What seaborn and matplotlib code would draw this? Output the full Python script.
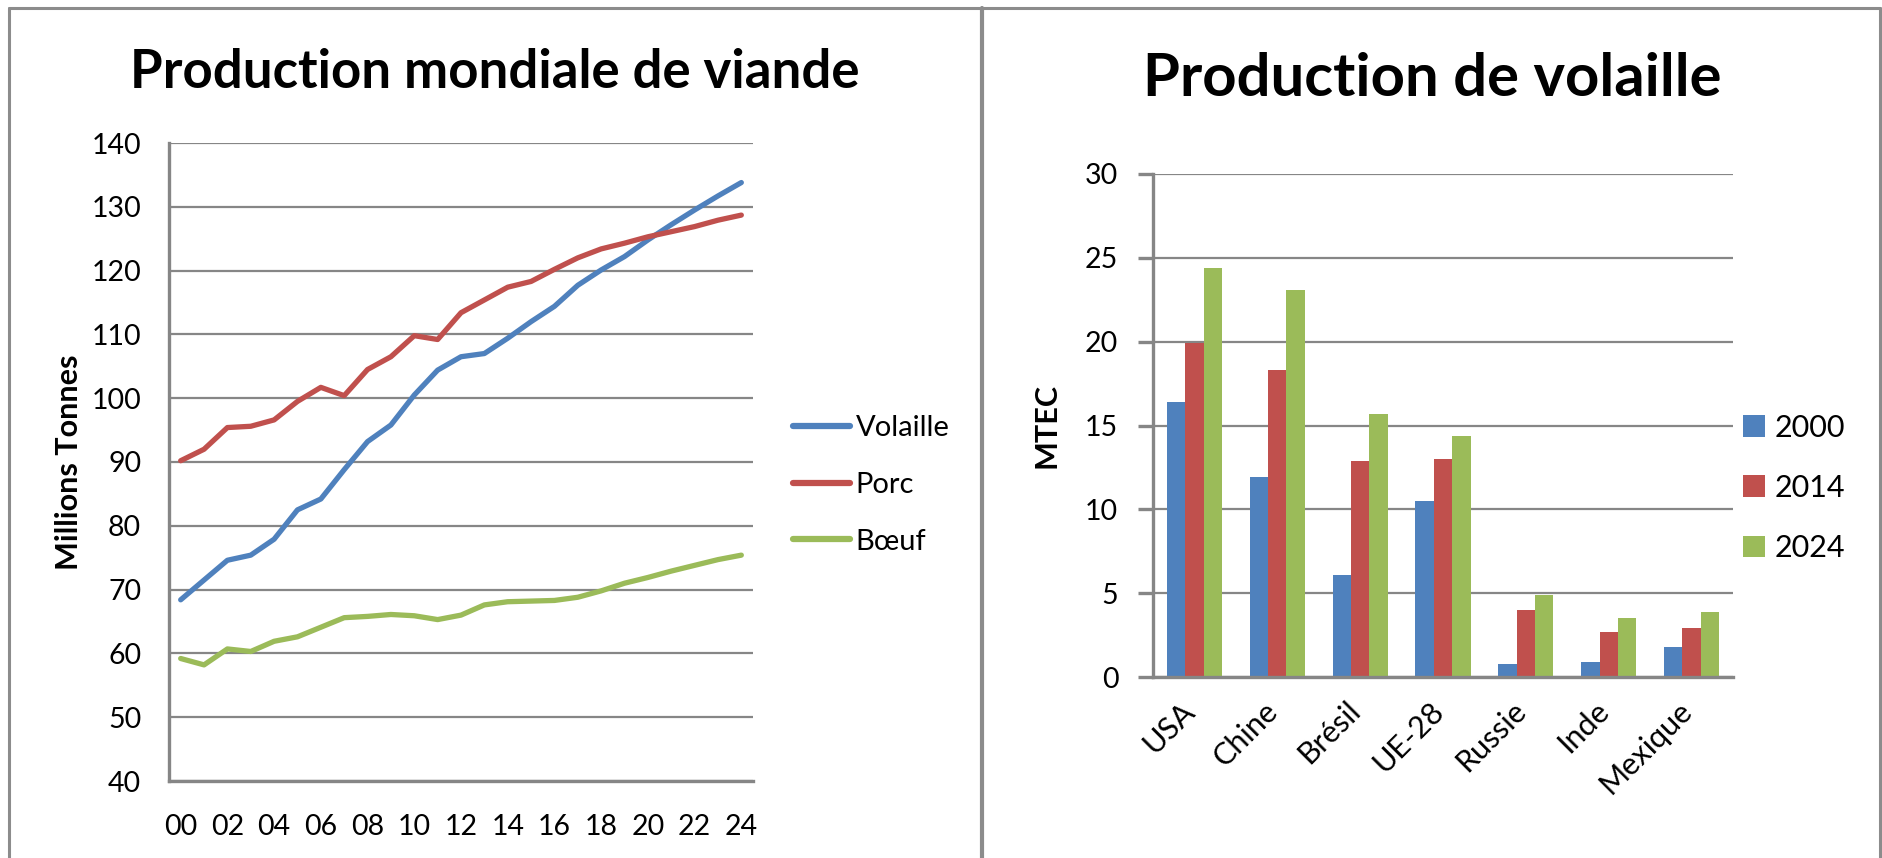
import numpy as np
import pandas as pd
import matplotlib
matplotlib.use("Agg")
import matplotlib.pyplot as plt
from matplotlib.lines import Line2D
from matplotlib.patches import Patch
from matplotlib.transforms import ScaledTranslation
import seaborn as sns

sns.set_theme(style="white")
plt.rcParams["font.family"] = ["Lato", "DejaVu Sans"]
plt.rcParams.update({"text.color": "black", "axes.labelcolor": "black",
                     "xtick.labelcolor": "black", "ytick.labelcolor": "black"})

# --- data : production mondiale de viande (millions de tonnes)
years = [2000, 2001, 2002, 2003, 2004, 2005, 2006, 2007, 2008, 2009, 2010, 2011, 2012,
         2013, 2014, 2015, 2016, 2017, 2018, 2019, 2020, 2021, 2022, 2023, 2024]
volaille = [68.4, 71.5, 74.6, 75.4, 77.9, 82.5, 84.2, 88.8, 93.2, 95.8, 100.5, 104.4, 106.5,
            107.0, 109.4, 112.0, 114.4, 117.7, 120.1, 122.2, 124.8, 127.2, 129.5, 131.7, 133.8]
porc = [90.2, 92.0, 95.4, 95.6, 96.6, 99.5, 101.7, 100.4, 104.5, 106.5, 109.8, 109.2, 113.4,
        115.4, 117.4, 118.3, 120.2, 122.0, 123.4, 124.3, 125.3, 126.1, 126.9, 127.9, 128.7]
boeuf = [59.2, 58.2, 60.7, 60.3, 61.9, 62.6, 64.1, 65.6, 65.8, 66.1, 65.9, 65.3, 66.0,
         67.6, 68.1, 68.2, 68.3, 68.8, 69.8, 71.0, 71.9, 72.9, 73.8, 74.7, 75.4]
meat_names = ["Volaille", "Porc", "Bœuf"]

# --- data : production de volaille (MTEC)
pays = ["USA", "Chine", "Brésil", "UE-28", "Russie", "Inde", "Mexique"]
prod_2000 = [16.4, 11.9, 6.1, 10.5, 0.8, 0.9, 1.8]
prod_2014 = [19.9, 18.3, 12.9, 13.0, 4.0, 2.7, 2.9]
prod_2024 = [24.4, 23.1, 15.7, 14.4, 4.9, 3.5, 3.9]
periodes = ["2000", "2014", "2024"]

colors = ["#4F81BD", "#C0504D", "#9BBB59"]
grid_c = "#868686"
frame_c = "#8c8c8c"

W, H = 1883, 858
fig = plt.figure(figsize=(W / 100, H / 100), dpi=100)
fig.patch.set_facecolor("white")


def px_axes(left, top, right, bottom):
    return fig.add_axes([left / W, 1 - bottom / H, (right - left) / W, (bottom - top) / H])


def style_axes(ax):
    ax.set_facecolor("white")
    ax.grid(axis="y", color=grid_c, linewidth=1.6)
    ax.set_axisbelow(True)
    for s in ["top", "right"]:
        ax.spines[s].set_visible(False)
    for s in ["left", "bottom"]:
        ax.spines[s].set_color(grid_c)
        ax.spines[s].set_linewidth(2.4)


# ---------------- left: lines
meat = pd.DataFrame({
    "annee": years * 3,
    "valeur": volaille + porc + boeuf,
    "viande": [m for m in meat_names for _ in years],
})
ax1 = px_axes(169, 143, 753, 781)
sns.lineplot(data=meat, x="annee", y="valeur", hue="viande", palette=colors,
             linewidth=3.8, ax=ax1, legend=False)
for ln in ax1.get_lines():
    ln.set_solid_capstyle("round")
    ln.set_solid_joinstyle("round")
style_axes(ax1)
ax1.set_xlim(years[0] - 0.5, years[-1] + 0.5)
ax1.set_ylim(40, 140)
ax1.set_yticks(range(40, 141, 10))
ax1.set_xticks(years[::2])
ax1.set_xticklabels([f"{y % 100:02d}" for y in years[::2]])
ax1.tick_params(axis="y", length=0, pad=20, labelsize=20.5)
ax1.tick_params(axis="x", length=0, pad=24, labelsize=20.5)
ax1.set_xlabel("")
ax1.set_ylabel("Millions Tonnes", fontsize=22, fontweight="bold", labelpad=6)

h1 = [Line2D([0], [0], color=c, linewidth=4.5, solid_capstyle="round") for c in colors]
ax1.legend(h1, meat_names, loc="center left", bbox_to_anchor=(793 / W, 1 - 485 / H),
           bbox_transform=fig.transFigure, frameon=False, fontsize=21,
           handlelength=1.95, handletextpad=0.2, labelspacing=1.05, borderpad=0,
           borderaxespad=0)

# ---------------- right: bars
vol = pd.DataFrame({
    "pays": pays * 3,
    "valeur": prod_2000 + prod_2014 + prod_2024,
    "periode": [p for p in periodes for _ in pays],
})
ax2 = px_axes(1153, 174, 1733, 677)
sns.barplot(data=vol, x="pays", y="valeur", hue="periode", palette=colors,
            width=3 / 4.5, gap=0, linewidth=0, saturation=1, ax=ax2, legend=False)
style_axes(ax2)
ax2.set_xlim(-0.5, len(pays) - 0.5)
ax2.set_ylim(0, 30)
ax2.set_yticks(range(0, 31, 5))
ax2.tick_params(axis="y", length=11, width=2.4, color=grid_c, pad=14, labelsize=20.5, left=True)
ax2.tick_params(axis="x", length=0, pad=14, labelsize=22)
shift = ScaledTranslation(-14 / 100, 0, fig.dpi_scale_trans)
for lab in ax2.get_xticklabels():
    lab.set_rotation(45)
    lab.set_ha("right")
    lab.set_rotation_mode("anchor")
    lab.set_transform(lab.get_transform() + shift)
ax2.set_xlabel("")
ax2.set_ylabel("MTEC", fontsize=22, fontweight="bold", labelpad=18)

h2 = [Patch(facecolor=c, edgecolor="none") for c in colors]
ax2.legend(h2, periodes, loc="center left", bbox_to_anchor=(1743 / W, 1 - 488 / H),
           bbox_transform=fig.transFigure, frameon=False, fontsize=22,
           handlelength=0.72, handleheight=0.72, handletextpad=0.3, labelspacing=1.05,
           borderpad=0, borderaxespad=0)

# ---------------- titles
fig.text(495 / W, 1 - 72 / H, "Production mondiale de viande", ha="center", va="center",
         fontsize=38, fontweight="bold")
fig.text(1432 / W, 1 - 79 / H, "Production de volaille", ha="center", va="center",
         fontsize=43, fontweight="bold")

# ---------------- panel frames
def fline(x0, y0, x1, y1, lw):
    fig.add_artist(Line2D([x0 / W, x1 / W], [1 - y0 / H, 1 - y1 / H],
                          transform=fig.transFigure, color=frame_c, linewidth=lw))

fline(9, 8, 1880, 8, 2.2)
fline(9, 8, 9, H, 2.2)
fline(982, 8, 982, H, 3.0)
fline(1880, 8, 1880, H, 2.2)

fig.savefig("out.png", dpi=100, facecolor="white")
